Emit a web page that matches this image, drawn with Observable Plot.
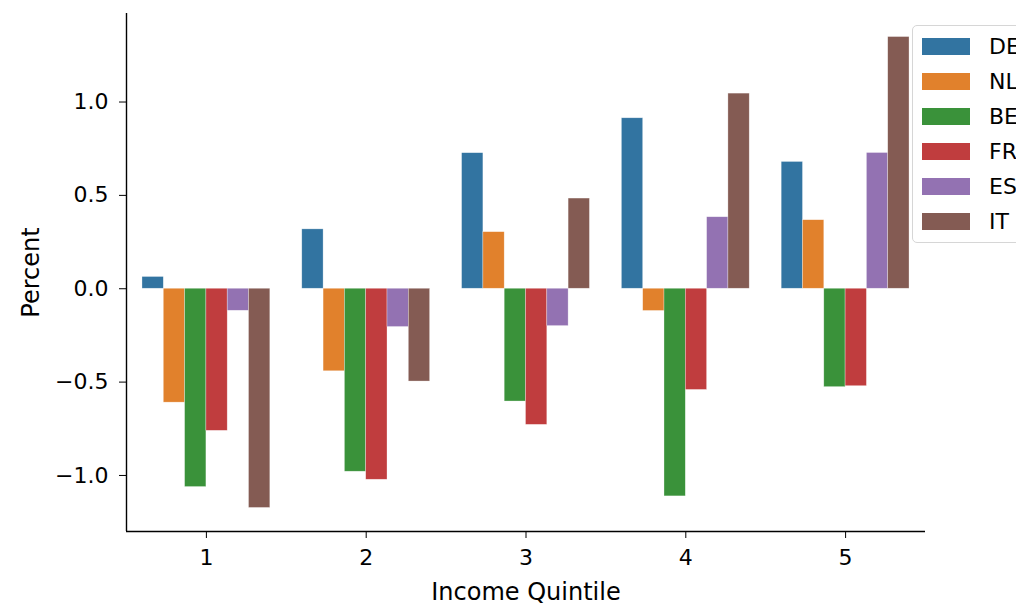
<!DOCTYPE html>
<html>
<head>
<meta charset="utf-8">
<script src="https://cdn.jsdelivr.net/npm/d3@7"></script>
<script src="https://cdn.jsdelivr.net/npm/@observablehq/plot@0.6"></script>
<style>
  html, body { margin: 0; padding: 0; background: #fff; overflow: hidden; }
  #wrap { position: relative; width: 1016px; height: 607px; overflow: hidden; font-family: "DejaVu Sans", sans-serif; }
  #legend { position: absolute; left: 912px; top: 25px; width: 140px; height: 218px; border: 1.5px solid #d6d6d6; border-radius: 5px; background: rgba(255,255,255,0.85); box-sizing: border-box; }
  .item { position: absolute; left: 9px; height: 35px; display: flex; align-items: center; }
  .sw { width: 48px; height: 17px; margin-right: 19px; }
  .lab { font-size: 22px; color: #000; }
</style>
</head>
<body>
<div id="wrap"><div id="legend"></div></div>
<script>
const quintiles = [1, 2, 3, 4, 5];
const countries = ["DE", "NL", "BE", "FR", "ES", "IT"];
const colors = ["#3274a1", "#e1812c", "#3a923a", "#c03d3e", "#9372b2", "#845b53"];
const DE = [0.063, 0.318, 0.726, 0.913, 0.679];
const NL = [-0.610, -0.442, 0.303, -0.119, 0.367];
const BE = [-1.062, -0.980, -0.604, -1.112, -0.527];
const FR = [-0.761, -1.023, -0.729, -0.542, -0.522];
const ES = [-0.118, -0.205, -0.200, 0.383, 0.727];
const IT = [-1.174, -0.497, 0.483, 1.045, 1.348];
const yTicks = [-1.0, -0.5, 0.0, 0.5, 1.0];
const xLabel = "Income Quintile";
const yLabel = "Percent";

const series = {DE, NL, BE, FR, ES, IT};
const data = [];
countries.forEach((c, ci) => {
  series[c].forEach((v, qi) => data.push({quintile: quintiles[qi], country: c, ci, value: v}));
});

const groupWidth = 0.8;
const barW = groupWidth / countries.length;
const vals = data.map(d => d.value);
const vmin = d3.min(vals), vmax = d3.max(vals);
const pad = (vmax - vmin) * 0.05;

const chart = Plot.plot({
  width: 1016,
  height: 607,
  marginLeft: 126,
  marginRight: 91,
  marginTop: 13,
  marginBottom: 76,
  style: {fontFamily: "DejaVu Sans", fontSize: "22px", color: "#000", background: "transparent"},
  x: {
    type: "linear",
    domain: [quintiles[0] - 0.5, quintiles[quintiles.length - 1] + 0.5],
    ticks: quintiles,
    tickFormat: d => String(d),
    tickSize: 7,
    tickPadding: 11,
    label: xLabel,
    labelAnchor: "center",
    labelArrow: false,
    labelOffset: 68
  },
  y: {
    domain: [vmin - pad, vmax + pad],
    ticks: yTicks,
    tickFormat: d3.format(".1f"),
    tickSize: 7,
    tickPadding: 11,
    label: yLabel,
    labelAnchor: "center",
    labelArrow: false,
    labelOffset: 105
  },
  color: {domain: countries, range: colors},
  marks: [
    Plot.rect(data, {
      x1: d => d.quintile - groupWidth / 2 + d.ci * barW,
      x2: d => d.quintile - groupWidth / 2 + (d.ci + 1) * barW,
      y1: 0,
      y2: "value",
      fill: "country",
      stroke: "#ffffff",
      strokeWidth: 0.6,
      strokeOpacity: 0.5
    }),
    Plot.ruleX([quintiles[0] - 0.5], {stroke: "#000", strokeWidth: 1.4}),
    Plot.ruleY([vmin - pad], {stroke: "#000", strokeWidth: 1.4})
  ]
});
chart.querySelectorAll("text").forEach(t => {
  if (/[→↑←↓]/.test(t.textContent)) t.textContent = t.textContent.replace(/\s*[→↑←↓]\s*/g, "").trim();
  if (t.textContent === xLabel || t.textContent === yLabel) t.setAttribute("font-size", "24px");
  if (t.textContent === xLabel || t.textContent === yLabel) t.style.fontSize = "24px";
});
document.getElementById("wrap").prepend(chart);

const legend = document.getElementById("legend");
countries.forEach((c, i) => {
  const item = document.createElement("div");
  item.className = "item";
  item.style.top = (3 + i * 35) + "px";
  item.innerHTML = `<div class="sw" style="background:${colors[i]}"></div><span class="lab">${c}</span>`;
  legend.appendChild(item);
});
</script>
</body>
</html>
